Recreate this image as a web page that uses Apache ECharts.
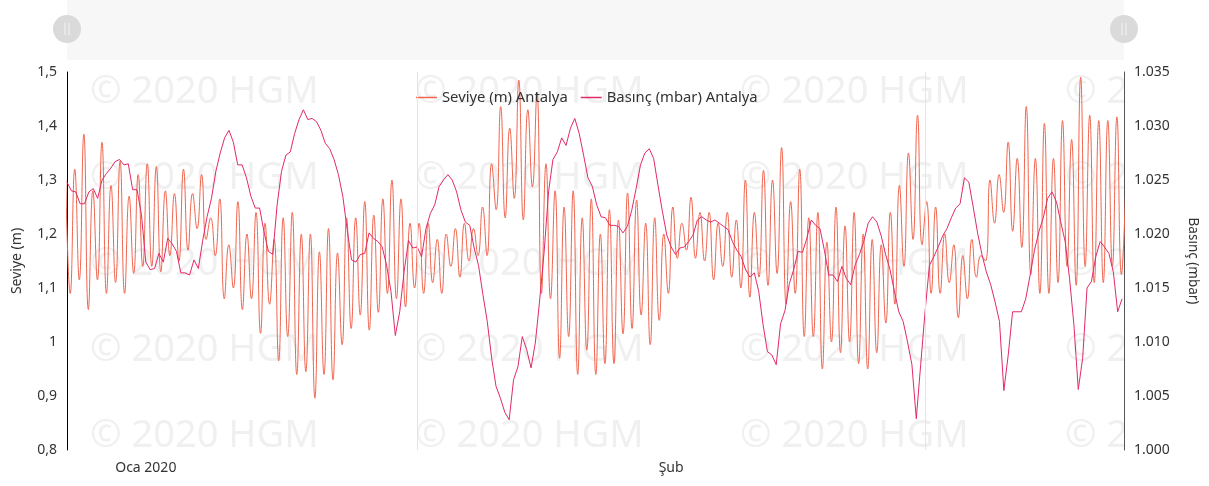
<!DOCTYPE html>
<html>
<head>
    <meta charset="UTF-8">
    <title>Seviye / Basınç Antalya</title>
    <style>
        html, body { margin: 0; padding: 0; background: #fff; }
        #main { width: 1209px; height: 486px; }
    </style>
</head>
<body>
<div id="main"></div>
<script src="https://cdn.jsdelivr.net/npm/echarts@6/dist/echarts.min.js"></script>
<script type="text/javascript">
    // ---- data ----
    // sea level (m): successive high / low water values, one every 6.21 h
    var seviyeStart = Date.UTC(2020, 0, 11, 22, 13);
    var seviyeStepMin = 372.6;
    var seviye = [
        1.30, 1.09, 1.32, 1.115, 1.385, 1.06, 1.28, 1.115, 1.37, 1.09,
        1.29, 1.11, 1.335, 1.09, 1.27, 1.127, 1.31, 1.14, 1.33, 1.14,
        1.325, 1.13, 1.28, 1.16, 1.275, 1.15, 1.32, 1.17, 1.275, 1.21,
        1.31, 1.19, 1.23, 1.16, 1.265, 1.08, 1.18, 1.10, 1.26, 1.06,
        1.20, 1.08, 1.24, 1.016, 1.22, 1.07, 1.19, 0.965, 1.23, 1.01,
        1.24, 0.94, 1.20, 0.945, 1.20, 0.896, 1.167, 0.94, 1.21, 0.93,
        1.165, 0.995, 1.23, 1.025, 1.23, 1.05, 1.26, 1.022, 1.235, 1.055,
        1.265, 1.09, 1.30, 1.08, 1.265, 1.065, 1.22, 1.10, 1.22, 1.09,
        1.22, 1.11, 1.19, 1.09, 1.20, 1.14, 1.21, 1.12, 1.22, 1.15,
        1.21, 1.16, 1.25, 1.16, 1.33, 1.245, 1.436, 1.23, 1.396, 1.266,
        1.485, 1.226, 1.43, 1.287, 1.463, 1.09, 1.33, 1.08, 1.28, 0.97,
        1.25, 1.01, 1.28, 0.94, 1.23, 0.985, 1.265, 0.94, 1.20, 0.96,
        1.245, 0.96, 1.226, 1.015, 1.276, 1.025, 1.263, 1.05, 1.22, 0.995,
        1.23, 1.04, 1.20, 1.09, 1.25, 1.155, 1.22, 1.17, 1.268, 1.155,
        1.24, 1.15, 1.24, 1.115, 1.22, 1.14, 1.24, 1.12, 1.226, 1.10,
        1.30, 1.083, 1.24, 1.12, 1.318, 1.105, 1.30, 1.127, 1.36, 1.07,
        1.26, 1.09, 1.32, 1.01, 1.23, 1.01, 1.24, 0.95, 1.185, 1.0,
        1.25, 0.98, 1.215, 1.0, 1.24, 0.96, 1.20, 0.95, 1.19, 0.98,
        1.18, 1.035, 1.24, 1.07, 1.29, 1.14, 1.35, 1.19, 1.42, 1.18,
        1.26, 1.09, 1.25, 1.09, 1.20, 1.11, 1.18, 1.045, 1.16, 1.08,
        1.19, 1.12, 1.16, 1.15, 1.30, 1.22, 1.31, 1.24, 1.37, 1.205,
        1.34, 1.175, 1.436, 1.125, 1.34, 1.09, 1.405, 1.09, 1.34, 1.11,
        1.41, 1.14, 1.375, 1.105, 1.49, 1.14, 1.42, 1.11, 1.41, 1.11,
        1.41, 1.14, 1.417, 1.125, 1.30
    ];

    // pressure (mbar): one reading every 6 h
    var basincStart = Date.UTC(2020, 0, 12, 0, 0);
    var basincStepMin = 360;
    var basinc = [
        1024.8, 1024.0, 1023.9, 1022.8, 1022.8, 1023.9, 1024.2, 1023.3, 1025.0, 1025.6,
        1026.1, 1026.7, 1026.9, 1026.4, 1026.5, 1024.1, 1024.1, 1021.8, 1017.4, 1016.7,
        1016.8, 1018.2, 1017.4, 1019.6, 1019.1, 1018.4, 1016.4, 1016.4, 1016.2, 1017.6,
        1016.8, 1019.4, 1021.6, 1023.3, 1025.8, 1027.5, 1028.9, 1029.6, 1028.5, 1026.4,
        1026.4, 1025.2, 1023.5, 1022.4, 1022.4, 1020.2, 1018.4, 1018.1, 1022.7, 1025.8,
        1027.3, 1027.6, 1029.3, 1030.6, 1031.5, 1030.6, 1030.7, 1030.4, 1029.6, 1028.4,
        1027.9, 1026.9, 1025.5, 1023.5, 1020.4, 1017.6, 1017.4, 1018.1, 1018.2, 1020.1,
        1019.6, 1019.3, 1018.8, 1017.1, 1014.7, 1010.6, 1012.8, 1016.5, 1019.4, 1018.7,
        1018.8, 1017.9, 1020.5, 1021.9, 1022.7, 1024.4, 1025.0, 1025.5, 1025.0, 1023.9,
        1022.2, 1021.1, 1020.8, 1018.7, 1017.1, 1014.4, 1011.9, 1008.5, 1005.9, 1004.8,
        1003.5, 1002.8, 1006.5, 1007.7, 1010.5, 1009.3, 1007.6, 1010.0, 1014.0, 1018.4,
        1023.9, 1026.9, 1027.6, 1028.9, 1028.2, 1029.8, 1030.7, 1029.3, 1027.3, 1025.2,
        1024.4, 1022.7, 1021.6, 1021.5, 1020.8, 1020.8, 1020.7, 1020.1, 1020.7, 1022.2,
        1024.2, 1026.4, 1027.5, 1027.9, 1027.0, 1024.5, 1022.1, 1019.9, 1018.8, 1018.1,
        1018.7, 1018.8, 1019.3, 1019.9, 1021.3, 1021.6, 1021.3, 1021.1, 1021.3, 1021.0,
        1020.7, 1020.4, 1019.3, 1018.5, 1017.9, 1016.7, 1016.0, 1016.4, 1014.7, 1011.6,
        1009.1, 1008.8, 1007.9, 1011.7, 1012.9, 1015.4, 1016.7, 1018.4, 1018.3, 1019.6,
        1021.3, 1020.8, 1020.5, 1018.5, 1016.2, 1016.2, 1015.6, 1017.0, 1015.9, 1015.3,
        1017.1, 1018.1, 1019.3, 1021.0, 1021.6, 1021.1, 1019.8, 1018.1, 1016.7, 1014.7,
        1012.8, 1011.9, 1010.0, 1007.9, 1002.9, 1007.9, 1012.8, 1017.1, 1017.9, 1018.8,
        1019.8, 1020.5, 1021.5, 1022.4, 1022.8, 1025.2, 1024.8, 1022.5, 1020.1, 1018.1,
        1016.5, 1015.3, 1013.7, 1011.9, 1005.5, 1008.8, 1012.8, 1012.8, 1012.8, 1014.0,
        1016.2, 1018.5, 1020.2, 1021.5, 1023.3, 1023.9, 1023.0, 1021.1, 1019.3, 1015.9,
        1011.6, 1005.6, 1008.5, 1015.0, 1015.6, 1017.9, 1019.3, 1018.8, 1018.2, 1016.5,
        1012.8, 1014.0
    ];

    // x axis: month labels sit in the middle of the month, lines at month starts
    var labelTimes = [Date.UTC(2020, 0, 16, 12), Date.UTC(2020, 1, 15, 12)];
    var labelTexts = ['Oca 2020', 'Şub'];
    var monthLines = [Date.UTC(2020, 1, 1), Date.UTC(2020, 2, 1)];
    var xMin = Date.UTC(2020, 0, 12, 0, 0);
    var xMax = Date.UTC(2020, 2, 12, 8, 40);

    function toPairs(start, stepMin, values) {
        var out = [];
        for (var i = 0; i < values.length; i++) {
            out.push([start + i * stepMin * 60000, values[i]]);
        }
        return out;
    }

    // watermark "© 2020 HGM" tiled over the plot
    var wmCols = [90, 415, 740, 1065];
    var wmRows = [96, 182, 268, 354, 440];
    var graphics = [];
    wmRows.forEach(function (y) {
        wmCols.forEach(function (x) {
            graphics.push({
                type: 'text', left: x, top: y - 23, z: -10, silent: true,
                style: { text: '© 2020 HGM', fill: '#f0f0f0', font: '38px "Noto Sans", sans-serif' }
            });
        });
    });
    // keep the watermark inside the plot
    graphics.push({ type: 'rect', z: -9, silent: true, shape: { x: 1125, y: 60, width: 84, height: 426 }, style: { fill: '#fff' } });
    graphics.push({ type: 'rect', z: -9, silent: true, shape: { x: 0, y: 451, width: 1209, height: 35 }, style: { fill: '#fff' } });
    // navigator band with its two handles
    graphics.push({ type: 'rect', z: -8, silent: true, shape: { x: 67, y: 0, width: 1057, height: 60 }, style: { fill: '#f7f7f7' } });
    [67, 1124].forEach(function (cx) {
        graphics.push({ type: 'circle', z: -7, silent: true, shape: { cx: cx, cy: 29, r: 14 }, style: { fill: '#dadada' } });
        graphics.push({ type: 'line', z: -6, silent: true, shape: { x1: cx - 2, y1: 23, x2: cx - 2, y2: 35 }, style: { stroke: '#f4f4f4', lineWidth: 1 } });
        graphics.push({ type: 'line', z: -6, silent: true, shape: { x1: cx + 2, y1: 23, x2: cx + 2, y2: 35 }, style: { stroke: '#f4f4f4', lineWidth: 1 } });
    });

    var myChart = echarts.init(document.getElementById('main'));
    var option = {
        animation: false,
        backgroundColor: '#fff',
        textStyle: { fontFamily: '"Noto Sans", sans-serif' },
        graphic: graphics,
        legend: {
            left: 411,
            top: 85,
            icon: 'rect',
            itemWidth: 21,
            itemHeight: 1.5,
            itemGap: 13,
            textStyle: { color: '#333', fontSize: 14.8 },
            data: ['Seviye (m) Antalya', 'Basınç (mbar) Antalya']
        },
        grid: { left: 67, right: 85, top: 72, bottom: 36 },
        xAxis: {
            type: 'value',
            min: xMin,
            max: xMax,
            axisLine: { show: false },
            axisTick: { show: false },
            splitLine: { show: false },
            axisLabel: {
                customValues: labelTimes,
                color: '#333',
                fontSize: 14,
                margin: 11,
                formatter: function (v) {
                    var k = labelTimes.indexOf(v);
                    return k >= 0 ? labelTexts[k] : '';
                }
            }
        },
        yAxis: [
            {
                type: 'value',
                min: 0.8, max: 1.5, interval: 0.1,
                name: 'Seviye (m)',
                nameLocation: 'middle',
                nameRotate: 90,
                nameGap: 43,
                nameTextStyle: { color: '#333', fontSize: 14 },
                axisLine: { show: true, lineStyle: { color: '#000', width: 1 } },
                axisTick: { show: false },
                splitLine: { show: false },
                axisLabel: {
                    color: '#333', fontSize: 14, margin: 10,
                    formatter: function (v) { return String(+v.toFixed(2)).replace('.', ','); }
                }
            },
            {
                type: 'value',
                min: 1000, max: 1035, interval: 5,
                name: 'Basınç (mbar)',
                nameLocation: 'middle',
                nameRotate: -90,
                nameGap: 62,
                nameTextStyle: { color: '#333', fontSize: 13.5 },
                axisLine: { show: true, lineStyle: { color: '#555', width: 1 } },
                axisTick: { show: false },
                splitLine: { show: false },
                axisLabel: {
                    color: '#333', fontSize: 14, margin: 10,
                    formatter: function (v) { return (v / 1000).toFixed(3); }
                }
            }
        ],
        series: [
            {
                name: 'Seviye (m) Antalya',
                type: 'line',
                yAxisIndex: 0,
                symbol: 'none',
                smooth: 0.5,
                lineStyle: { color: '#f0654f', width: 1 },
                itemStyle: { color: '#f0654f' },
                data: toPairs(seviyeStart, seviyeStepMin, seviye),
                markLine: {
                    silent: true,
                    symbol: 'none',
                    label: { show: false },
                    lineStyle: { color: '#e4e4e4', type: 'solid', width: 1 },
                    data: monthLines.map(function (t) { return { xAxis: t }; })
                }
            },
            {
                name: 'Basınç (mbar) Antalya',
                type: 'line',
                yAxisIndex: 1,
                symbol: 'none',
                lineStyle: { color: '#e22a68', width: 1 },
                itemStyle: { color: '#e22a68' },
                data: toPairs(basincStart, basincStepMin, basinc)
            }
        ]
    };
    myChart.setOption(option);
</script>
</body>
</html>
